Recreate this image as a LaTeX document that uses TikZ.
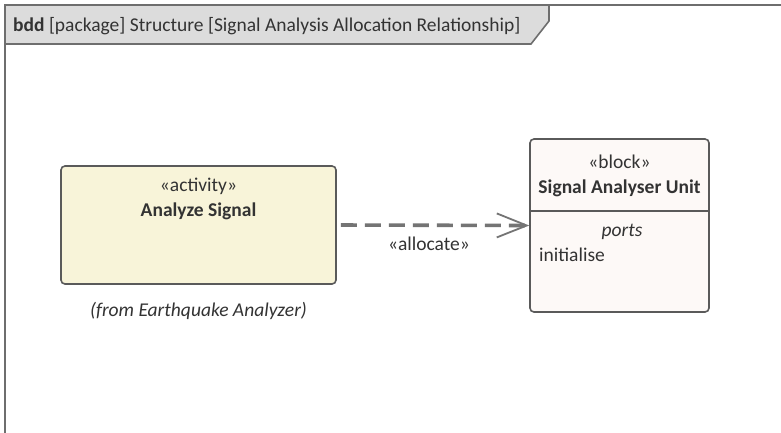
\documentclass[tikz,border=0pt]{standalone}
\usepackage{fontspec}
\setmainfont{Carlito}
\usetikzlibrary{arrows.meta}
\definecolor{framegray}{HTML}{6E6E6E}
\definecolor{tabgray}{HTML}{DCDCDC}
\definecolor{textgray}{HTML}{333333}
\definecolor{actfill}{HTML}{F8F4D9}
\definecolor{blkfill}{HTML}{FDF9F7}
\definecolor{boxline}{HTML}{5A5A5A}
\definecolor{allocgray}{HTML}{747474}
\tikzset{
  actbox/.style={draw=boxline,fill=actfill,line width=1.6pt,rounded corners=4pt,
    minimum width=275pt,minimum height=118pt,inner sep=0pt},
  blkbox/.style={draw=boxline,fill=blkfill,line width=1.6pt,rounded corners=4pt,
    minimum width=179pt,minimum height=173pt,inner sep=0pt},
  lbl/.style={text=textgray,inner sep=0pt,font=\fontsize{19.5}{23}\selectfont},
  allocline/.style={draw=allocgray,line width=3.6pt,dash pattern=on 16pt off 8pt,
    -{Straight Barb[length=30pt,width=24pt,line width=1.8pt]}}
}
\begin{document}
\begin{tikzpicture}[x=1pt,y=-1pt]
\useasboundingbox (0,0) rectangle (781,432);
\clip (0,0) rectangle (781,432);
\fill[white] (0,0) rectangle (781,432);
% frame and tab
\draw[framegray,line width=2pt] (5,440) -- (5,5) -- (790,5);
\filldraw[fill=tabgray,draw=framegray,line width=1.6pt]
(5,5) -- (549,5) -- (549,21) -- (531,44) -- (5,44) -- cycle;
\node[lbl,anchor=base west] (title) at (13,31) {\textbf{bdd} [package] Structure [Signal Analysis Allocation Relationship]};
% activity
\node[actbox] (act) at (198.5,225) {};
\node[lbl,anchor=base] (actst) at (198.5,191) {«activity»};
\node[lbl,anchor=base,font=\fontsize{19.5}{23}\selectfont\bfseries] (actname) at (198.5,216) {Analyze Signal};
\node[lbl,anchor=base,font=\fontsize{19.5}{23}\selectfont\itshape] (actfrom) at (198.5,316) {(from Earthquake Analyzer)};
% block
\node[blkbox] (blk) at (619.5,225.5) {};
\draw[boxline,line width=1.6pt] (530,211) -- (709,211);
\node[lbl,anchor=base] (blkst) at (619.5,168) {«block»};
\node[lbl,anchor=base,font=\fontsize{19.5}{23}\selectfont\bfseries] (blkname) at (619.5,193) {Signal Analyser Unit};
\node[lbl,anchor=base,font=\fontsize{19.5}{23}\selectfont\itshape] (ports) at (622,236) {ports};
\node[lbl,anchor=base west] (init) at (539,261) {initialise};
% allocation
\draw[allocline,shorten <=4pt] (act.east) -- (blk.west);
\node[lbl,anchor=base] (alloc) at (429,250) {«allocate»};
\end{tikzpicture}
\end{document}
